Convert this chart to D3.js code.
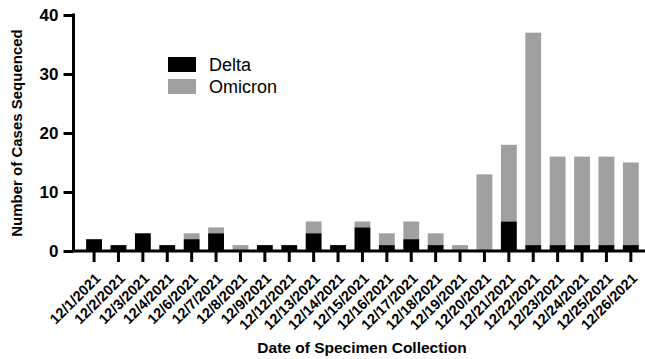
<!DOCTYPE html>
<html>
  <body>
    <script src="https://cdn.jsdelivr.net/npm/d3@7"></script>
    <style>
      body{ margin: 0; background: #fff; font-family: "Liberation Sans", Arial, sans-serif;}
      svg{ display: block;}
      .axis path, .axis line{ stroke: #000; stroke-width: 3; }
      .axis text{ font-weight: bold; fill: #000; font-family: "Liberation Sans", Arial, sans-serif; }
    </style>
    <script>
var dates = ['12/1/2021', '12/2/2021', '12/3/2021', '12/4/2021', '12/6/2021', '12/7/2021'
  , '12/8/2021', '12/9/2021', '12/12/2021', '12/13/2021', '12/14/2021', '12/15/2021'
  , '12/16/2021', '12/17/2021', '12/18/2021', '12/19/2021', '12/20/2021', '12/21/2021'
  , '12/22/2021', '12/23/2021', '12/24/2021', '12/25/2021', '12/26/2021']
var delta   = [2, 1, 3, 1, 2, 3, 0, 1, 1, 3, 1, 4, 1, 2, 1, 0, 0, 5, 1, 1, 1, 1, 1]
var omicron = [0, 0, 0, 0, 1, 1, 1, 0, 0, 2, 0, 1, 2, 3, 2, 1, 13, 13, 36, 15, 15, 15, 14]
var yTicks = [0, 10, 20, 30, 40]
var series = ['Delta', 'Omicron']
var colors = ['#000000', '#a0a0a0']

var width = 645, height = 359
var svg = d3.select('body').append('svg').attr('width', width).attr('height', height)

var x = d3.scaleBand().domain(dates).range([77.6, 647.3]).padding(0.35)
var y = d3.scaleLinear().domain([0, 40]).range([251, 15])

// stacked bars
dates.forEach(function(d, i){
  svg.append('rect').attr('fill', colors[1])
    .attr('x', x(d)).attr('width', x.bandwidth())
    .attr('y', y(delta[i] + omicron[i])).attr('height', y(delta[i]) - y(delta[i] + omicron[i]))
  svg.append('rect').attr('fill', colors[0])
    .attr('x', x(d)).attr('width', x.bandwidth())
    .attr('y', y(delta[i])).attr('height', y(0) - y(delta[i]))
})

// y axis
var yAxis = svg.append('g').attr('class', 'axis').attr('transform', 'translate(73.5,0)')
  .call(d3.axisLeft(y).tickValues(yTicks).tickSize(10).tickSizeOuter(0))
yAxis.selectAll('text').style('font-size', '17px').attr('dx', '-2')
yAxis.select('.domain').attr('d', 'M0,' + (y(40) - 1.5) + 'V' + y(0))

// x axis
var xAxis = svg.append('g').attr('class', 'axis').attr('transform', 'translate(0,' + y(0) + ')')
  .call(d3.axisBottom(x).tickSize(11).tickSizeOuter(0))
xAxis.select('.domain').attr('d', 'M72,0H645')
xAxis.selectAll('text')
  .style('font-size', '14.5px')
  .attr('text-anchor', 'end')
  .attr('y', 0)
  .attr('dy', '0.72em')
  .attr('transform', 'translate(0,21) rotate(-45)')

// axis titles
svg.append('text').text('Number of Cases Sequenced')
  .attr('transform', 'translate(22,133) rotate(-90)')
  .attr('text-anchor', 'middle')
  .style('font-weight', 'bold').style('font-size', '15px')
svg.append('text').text('Date of Specimen Collection')
  .attr('x', 362).attr('y', 353)
  .attr('text-anchor', 'middle')
  .style('font-weight', 'bold').style('font-size', '15.5px')

// legend
series.forEach(function(s, i){
  svg.append('rect').attr('x', 168).attr('y', 57 + i * 22).attr('width', 28).attr('height', 15)
    .attr('fill', colors[i])
  svg.append('text').text(s).attr('x', 209).attr('y', 65 + i * 22).attr('dy', '0.35em')
    .style('font-size', '18px')
})
    </script>
  </body>
</html>
